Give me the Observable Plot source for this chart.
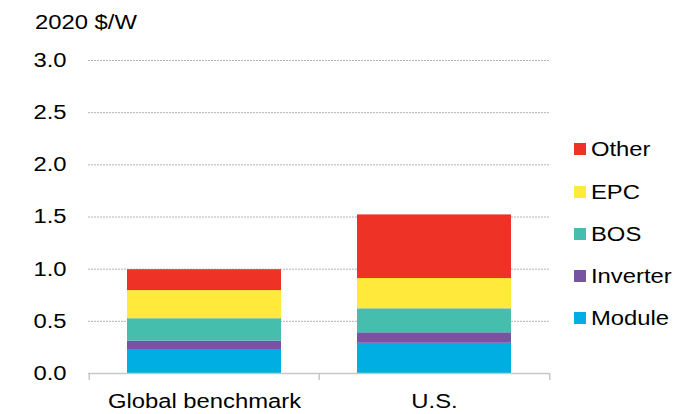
<!DOCTYPE html>
<html><head><meta charset="utf-8">
<script src="https://cdn.jsdelivr.net/npm/d3@7"></script>
<script src="https://cdn.jsdelivr.net/npm/@observablehq/plot@0.6"></script>
<style>
body{margin:0;background:#fff;}
#wrap{position:relative;width:687px;height:414px;font-family:"Liberation Sans",Arial,sans-serif;color:#000;}
.t{position:absolute;font-size:20px;line-height:20px;transform:scaleX(1.19);transform-origin:0 0;white-space:nowrap;}
.sw{position:absolute;width:12px;height:12px;}
</style></head><body><div id="wrap"></div>
<script>
const categories = ["Global benchmark", "U.S."];
const components = ["Module", "Inverter", "BOS", "EPC", "Other"];
const globalValues = [0.23, 0.08, 0.215, 0.27, 0.20];
const usValues = [0.29, 0.10, 0.23, 0.29, 0.61];
const colors = ["#00AEE4", "#7853A2", "#45BEAD", "#FFE93A", "#EE3226"];
const yTicks = [0, 0.5, 1, 1.5, 2, 2.5, 3];
const yTitle = "2020 $/W";

const data = [];
[globalValues, usValues].forEach((vals, ci) =>
  vals.forEach((v, k) => data.push({category: categories[ci], component: components[k], value: v})));

const W = 687, H = 414, mL = 88, mR = 138, mT = 60, mB = 41;
const step = (W - mL - mR) / categories.length;
const tickLen = 7;
const axisColor = "#c8c8c8";

const plot = Plot.plot({
  width: W, height: H, marginLeft: mL, marginRight: mR, marginTop: mT, marginBottom: mB,
  style: {fontFamily: "Liberation Sans, Arial, sans-serif", fontSize: "20px", color: "#000", background: "#fff", overflow: "visible"},
  x: {domain: categories, padding: 0},
  y: {domain: [0, 3]},
  color: {domain: components, range: colors},
  marks: [
    Plot.ruleY(yTicks.filter(t => t > 0), {stroke: "#b4b4b4", strokeWidth: 1, strokeDasharray: "2,1"}),
    Plot.barY(data, {x: "category", y: "value", fill: "component", insetLeft: 38, insetRight: 38}),
    Plot.ruleY([0], {stroke: axisColor, strokeWidth: 1.5}),
    Plot.ruleX(categories, {x: d => d, dx: -step / 2, y1: () => 0, y2: () => 0, insetBottom: -tickLen, stroke: axisColor, strokeWidth: 1.5}),
    Plot.ruleX(categories.slice(-1), {x: d => d, dx: step / 2, y1: () => 0, y2: () => 0, insetBottom: -tickLen, stroke: axisColor, strokeWidth: 1.5}),
    Plot.axisY({ticks: yTicks, tickSize: 0, tickPadding: 22, tickFormat: d3.format(".1f"), fontSize: 20, label: null}),
    Plot.axisX({tickSize: 0, tickPadding: 20, fontSize: 20, label: null})
  ]
});

const wrap = document.getElementById("wrap");
wrap.appendChild(plot);
// horizontally widen the text like the reference
plot.querySelectorAll("text").forEach(t => {
  const len = t.getComputedTextLength();
  if (len > 0) {
    t.setAttribute("textLength", (len * 1.19).toFixed(2));
    t.setAttribute("lengthAdjust", "spacingAndGlyphs");
  }
});

function addText(txt, left, top) {
  const d = document.createElement("div");
  d.className = "t"; d.textContent = txt;
  d.style.left = left + "px"; d.style.top = top + "px";
  wrap.appendChild(d);
}
addText(yTitle, 35, 12.4);

// legend (top item = last component)
const legendCenters = [149, 192, 234, 276, 318];
components.slice().reverse().forEach((c, i) => {
  const cy = legendCenters[i];
  const sw = document.createElement("div");
  sw.className = "sw";
  sw.style.left = "574px"; sw.style.top = (cy - 6) + "px";
  sw.style.background = colors[components.indexOf(c)];
  wrap.appendChild(sw);
  addText(c, 591, cy - 9.7);
});
</script></body></html>
